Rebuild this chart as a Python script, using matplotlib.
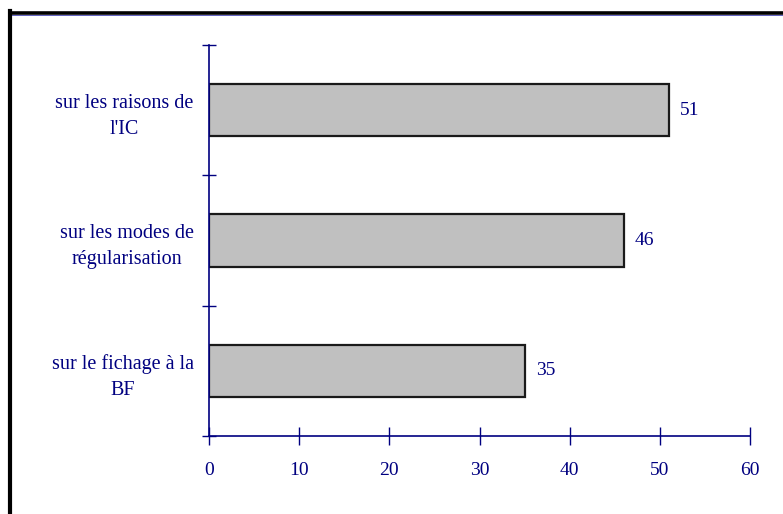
import matplotlib.pyplot as plt
from matplotlib.lines import Line2D

# categories bottom to top
labels = ["sur le fichage à la\nBF", "sur les modes de\nrégularisation", "sur les raisons de\nl'IC"]
values = [35, 46, 51]
xticks = [0, 10, 20, 30, 40, 50, 60]

navy = "#000080"
plt.rcParams['font.family'] = ['Liberation Serif', 'DejaVu Serif']
plt.rcParams['font.size'] = 14

fig = plt.figure(figsize=(7.83, 5.14), dpi=100)
ax = fig.add_axes([209 / 783, 1 - 436 / 514, (750 - 209) / 783, (436 - 45) / 514])

pos = list(range(len(labels)))
ax.barh(pos, values, height=0.4, color="#c0c0c0", edgecolor="#1a1a1a", linewidth=1.6)
for p, v in zip(pos, values):
    ax.annotate(str(v), (v, p), xytext=(8, 0), textcoords="offset points",
                va="center", ha="left", color=navy, fontsize=14)

ax.set_xlim(0, 60)
ax.set_ylim(-0.5, len(labels) - 0.5)
ax.set_xticks(xticks)
ax.set_xticklabels([str(t) for t in xticks], color=navy)

# labels at bar centres, tick marks between categories
ax.set_yticks(pos)
ax.set_yticklabels(labels, color=navy, multialignment="center", linespacing=1.5,
                   fontsize=14.5)
ax.set_yticks([p - 0.5 for p in pos] + [len(labels) - 0.5], minor=True)
ax.tick_params(axis="y", which="major", length=0, pad=11)
ax.tick_params(axis="y", which="minor", direction="inout", length=10, width=1, color=navy)
ax.tick_params(axis="x", direction="inout", length=13, width=1, color=navy, pad=12)

for s in ("top", "right"):
    ax.spines[s].set_visible(False)
for s in ("left", "bottom"):
    ax.spines[s].set_color(navy)
    ax.spines[s].set_linewidth(1.2)

# outer frame: thick black top and left edges
fig.add_artist(Line2D([10 / 783, 1], [1 - 12.5 / 514, 1 - 12.5 / 514], color="black", linewidth=2.6))
fig.add_artist(Line2D([10 / 783, 1], [1 - 14.5 / 514, 1 - 14.5 / 514], color="#6060c0", linewidth=0.7))
fig.add_artist(Line2D([10.3 / 783, 10.3 / 783], [0, 1 - 11 / 514], color="black", linewidth=3))

fig.savefig("out.png", dpi=100)
